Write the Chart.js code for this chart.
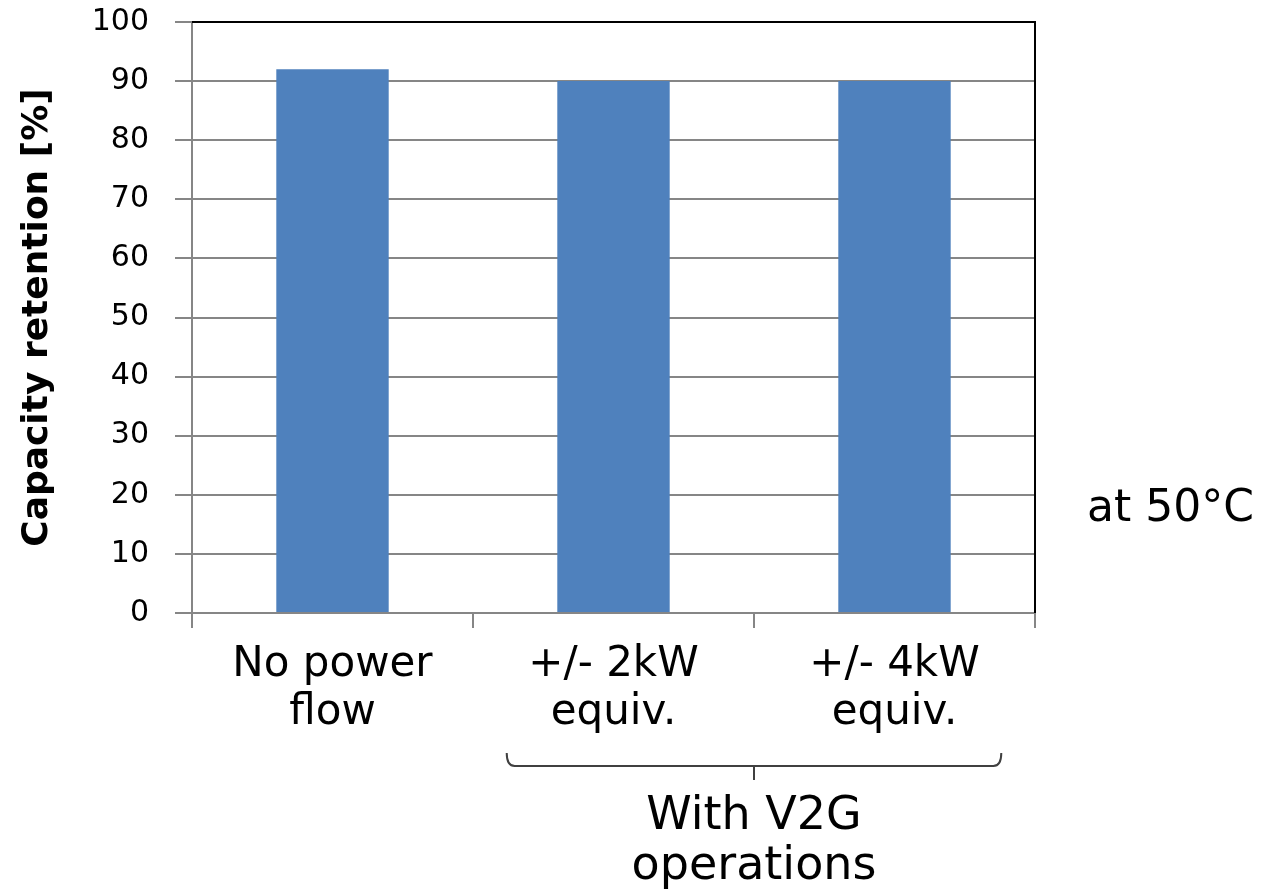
<!DOCTYPE html>
<html>
<head>
<meta charset="utf-8">
<script src="https://cdn.jsdelivr.net/npm/chart.js@4.4.1/dist/chart.umd.min.js"></script>
<style>
  html, body { margin: 0; padding: 0; background: #fff; }
  #wrap { width: 1261px; height: 890px; }
</style>
</head>
<body>
<div id="wrap"><canvas id="chart"></canvas></div>
<script>
// ---------- DATA ----------
const categories = [["No power", "flow"], ["+/- 2kW", "equiv."], ["+/- 4kW", "equiv."]];
const retention = [92, 90, 90];
const yMin = 0, yMax = 100, yStep = 10;
const groupLabel = ["With V2G", "operations"];
const tempNote = "at 50°C";
const yTitle = "Capacity retention [%]";

const FONT = "'DejaVu Sans', Verdana, sans-serif";
const BAR = "#4F81BD";
const GRID = "#868686";

// ---------- EXTRA DRAWING (borders, bracket, notes) ----------
const extras = {
  id: "extras",
  afterDraw(chart) {
    const { ctx, chartArea: a, scales: { x } } = chart;
    ctx.save();
    // black top / right frame
    ctx.strokeStyle = "#000";
    ctx.lineWidth = 2;
    ctx.beginPath();
    ctx.moveTo(a.left, a.top);
    ctx.lineTo(a.right, a.top);
    ctx.lineTo(a.right, a.bottom);
    ctx.stroke();

    // bracket under the V2G categories
    const c1 = x.getPixelForValue(1), c2 = x.getPixelForValue(2);
    const w = c2 - c1;
    const l = c1 - w * 0.38, r = c2 + w * 0.38, mid = (c1 + c2) / 2;
    const yb = 766;
    ctx.strokeStyle = "#404040";
    ctx.lineWidth = 2;
    ctx.beginPath();
    ctx.moveTo(l, yb - 13);
    ctx.quadraticCurveTo(l, yb, l + 8, yb);
    ctx.lineTo(r - 8, yb);
    ctx.quadraticCurveTo(r, yb, r, yb - 13);
    ctx.moveTo(mid, yb);
    ctx.lineTo(mid, yb + 14);
    ctx.stroke();

    ctx.fillStyle = "#000";
    ctx.font = "46px " + FONT;
    ctx.textAlign = "center";
    ctx.textBaseline = "alphabetic";
    ctx.fillText(groupLabel[0], mid, 829);
    ctx.fillText(groupLabel[1], mid, 879);

    ctx.font = "44px " + FONT;
    ctx.textAlign = "left";
    ctx.fillText(tempNote, a.right + 52, 521);
    ctx.restore();
  }
};

// ---------- CHART ----------
new Chart(document.getElementById("chart").getContext("2d"), {
  type: "bar",
  data: {
    labels: categories,
    datasets: [{ data: retention, backgroundColor: BAR, borderWidth: 0, categoryPercentage: 1, barPercentage: 0.4 }]
  },
  options: {
    responsive: true, maintainAspectRatio: false, animation: false,
    layout: { padding: { top: 22, right: 226, left: 0, bottom: 0 } },
    plugins: { legend: { display: false }, tooltip: { enabled: false } },
    scales: {
      x: {
        grid: { offset: true, drawOnChartArea: false, color: GRID, lineWidth: 2, tickLength: 15 },
        border: { color: GRID, width: 2 },
        ticks: { color: "#000", font: { family: FONT, size: 42, lineHeight: 1.15 }, padding: 13, maxRotation: 0 },
        afterFit: s => { s.height = 277; }
      },
      y: {
        min: yMin, max: yMax,
        ticks: { stepSize: yStep, color: "#000", font: { family: FONT, size: 30 }, padding: 26 },
        grid: { color: GRID, lineWidth: 2, tickLength: 17 },
        border: { color: GRID, width: 2 },
        title: { display: true, text: yTitle, color: "#000", font: { family: FONT, size: 36, weight: "bold" }, padding: { top: 16 } },
        afterFit: s => { s.width = 192; s.paddingTop = 0; s.paddingBottom = 0; }
      }
    }
  },
  plugins: [extras]
});
</script>
</body>
</html>
